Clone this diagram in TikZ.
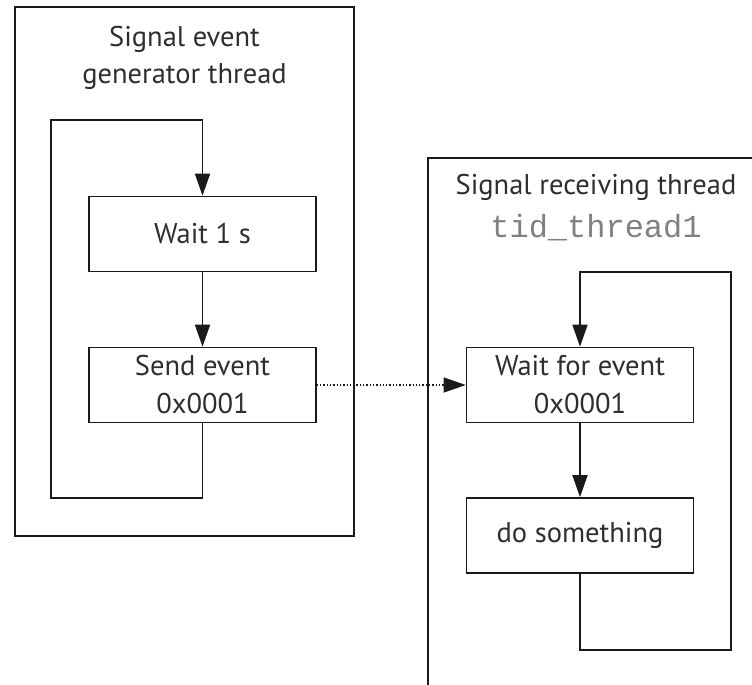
\documentclass[tikz,border=0pt]{standalone}
\usepackage{fontspec}
\setmainfont{PT Sans}
\newfontfamily\codefont{Liberation Mono}
\usetikzlibrary{arrows.meta}
\definecolor{ink}{HTML}{1A1A1A}
\definecolor{txt}{HTML}{2E2E2E}
\definecolor{codegray}{HTML}{808080}
\tikzset{
  frame/.style={draw=ink, line width=1.6pt},
  stepbox/.style={draw=ink, line width=1.6pt, minimum width=227pt, minimum height=75pt,
    inner sep=0pt, align=center, text=txt, font=\fontsize{28.5}{38}\selectfont},
  title/.style={align=center, text=txt, inner sep=0pt, font=\fontsize{28.5}{37}\selectfont},
  flow/.style={draw=ink, line width=1.6pt, -{Triangle[length=22pt,width=15pt]}},
  signal/.style={draw=ink, line width=1.3pt, dotted, -{Triangle[length=22pt,width=15pt]}},
}
\begin{document}
\begin{tikzpicture}[x=1pt,y=-1pt]
\useasboundingbox (0,0) rectangle (752,685);

% generator thread container
\draw[frame] (15,7) rectangle (354,536);
\node[title] (gentitle) at (184.5,58) {Signal event\\generator thread};

% receiving thread container (runs off the page right and below)
\draw[frame] (760,158) -- (428,158) -- (428,695);
\node[title] (rectitle) at (596,187) {Signal receiving thread};
\node[text=codegray, inner sep=0pt, font=\codefont\fontsize{32}{32}\selectfont] (tid) at (596,228) {tid\_thread1};

% generator steps
\node[stepbox] (wait) at (202.5,234) {Wait 1 s};
\node[stepbox] (send) at (202.5,385) {Send event\\0x0001};

% receiver steps
\node[stepbox] (recv) at (580,385) {Wait for event\\0x0001};
\node[stepbox] (work) at (580,535.5) {do something};

% loop corners
\coordinate (gbl) at (51,498);
\coordinate (gtl) at (51,120);
\coordinate (rbr) at (731,650);
\coordinate (rtr) at (731,272);

% generator loop
\draw[flow] (wait) -- (send);
\draw[flow] (send.south) |- (gbl) -- (gtl) -| (wait.north);

% receiver loop
\draw[flow] (recv) -- (work);
\draw[flow] (work.south) |- (rbr) -- (rtr) -| (recv.north);

% event signal
\draw[signal] (send.east) -- (recv.west);
\end{tikzpicture}
\end{document}
